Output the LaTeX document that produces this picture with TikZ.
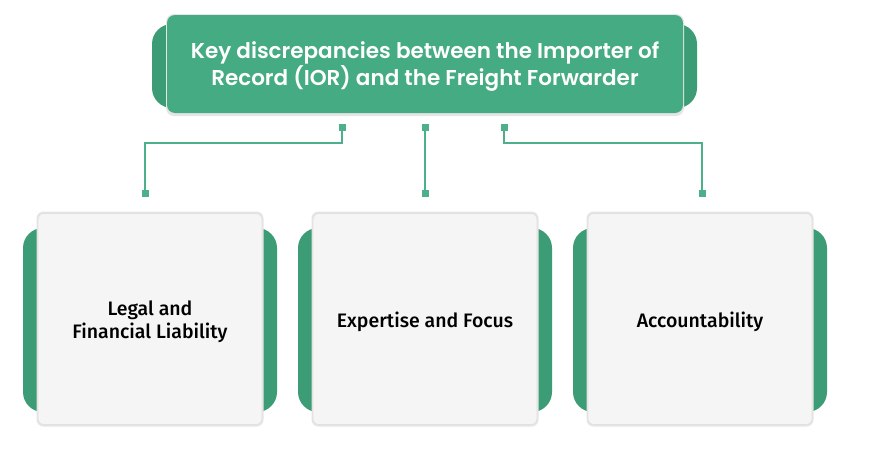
\documentclass[tikz,border=0pt]{standalone}
\usepackage{fontspec}
\newfontfamily\titlefont{Poppins}[UprightFont={* SemiBold}]
\newfontfamily\labelfont{Fira Sans}[UprightFont={* Medium}]
\definecolor{grn}{HTML}{45AB82}
\definecolor{grnd}{HTML}{3C9C75}
\definecolor{boxbg}{HTML}{F5F5F5}
\definecolor{lnk}{HTML}{4DB08A}
\tikzset{
  titlebox/.style={fill=grn, rounded corners=8pt, minimum width=516pt, minimum height=98pt, inner sep=0pt},
  titletext/.style={text=white, align=center, font=\titlefont\fontsize{21.5}{26.5}\selectfont, inner sep=0pt},
  cardbox/.style={fill=boxbg, draw=black!12, line width=0.6pt, rounded corners=6pt,
    minimum width=224pt, minimum height=211pt, inner sep=0pt},
  cardtext/.style={align=center, font=\labelfont\fontsize{19.5}{23}\selectfont, text=black, inner sep=0pt},
  tab/.style={fill=grnd, rounded corners=20pt},
  shadowbox/.style={fill=black!10, rounded corners=8pt},
  dot/.style={fill=lnk, minimum size=7pt, inner sep=0pt, outer sep=0pt},
  link/.style={draw=lnk, line width=1.5pt}
}
\begin{document}
\begin{tikzpicture}[x=1pt,y=-1pt]
\useasboundingbox (0,0) rectangle (879,450);
\fill[white] (0,0) rectangle (879,450);
% title
\fill[tab] (152,24) rectangle (697,108);
\fill[shadowbox] (166,14) rectangle (684,116);
\node[titlebox] (title) at (425,64) {};
\node[titletext] (titlelabel) at (425,66.5) {Key discrepancies between the Importer of\\Record (IOR) and the Freight Forwarder};
% cards
\foreach \cx in {150, 425, 700}{
  \fill[tab] (\cx-127,228) rectangle (\cx+127,412);
  \fill[shadowbox, rounded corners=7pt] (\cx-113.5,211.5) rectangle (\cx+113.5,426.5);
}
\node[cardbox] (b1) at (150,319) {};
\node[cardbox] (b2) at (425,319) {};
\node[cardbox] (b3) at (700,319) {};
\node[cardtext] (l1) at (150,321.5) {Legal and\\Financial Liability};
\node[cardtext] (l2) at (425,321.5) {Expertise and Focus};
\node[cardtext] (l3) at (700,321.5) {Accountability};
% connector dots
\node[dot] (t1) at (342,127) {};
\node[dot] (t2) at (425,127) {};
\node[dot] (t3) at (504,127) {};
\node[dot] (s1) at (145,193) {};
\node[dot] (s2) at (425,193) {};
\node[dot] (s3) at (702,193) {};
\coordinate (h1) at (342,143);
\coordinate (h3) at (504,143);
\draw[link] (t1.center) -- (h1) -| (s1.center);
\draw[link] (t2.center) -- (s2.center);
\draw[link] (t3.center) -- (h3) -| (s3.center);
\node[dot] at (t1) {};
\node[dot] at (t2) {};
\node[dot] at (t3) {};
\node[dot] at (s1) {};
\node[dot] at (s2) {};
\node[dot] at (s3) {};
\end{tikzpicture}
\end{document}
